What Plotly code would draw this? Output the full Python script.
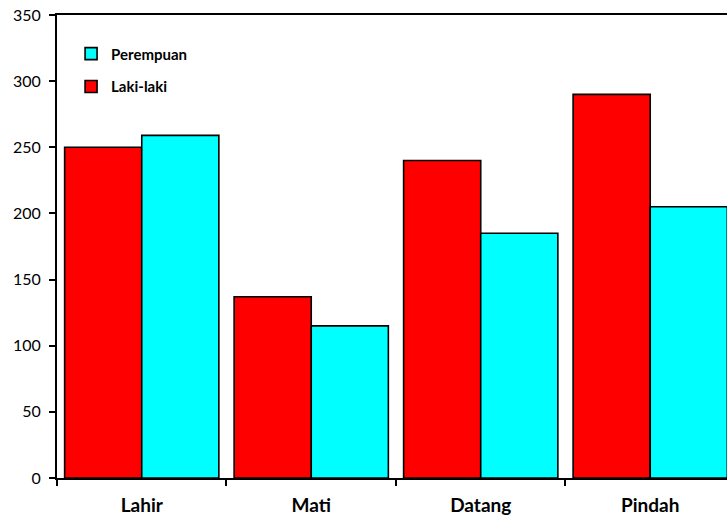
import plotly.graph_objects as go

categories = ["Lahir", "Mati", "Datang", "Pindah"]
laki_laki = [250, 137, 240, 290]
perempuan = [259, 115, 185, 205]
y_ticks = [0, 50, 100, 150, 200, 250, 300, 350]

fig = go.Figure()
fig.add_trace(go.Bar(
    x=categories, y=laki_laki, name="Laki-laki",
    marker=dict(color="#FF0000", line=dict(color="black", width=1.6)),
    legend="legend2",
))
fig.add_trace(go.Bar(
    x=categories, y=perempuan, name="Perempuan",
    marker=dict(color="#00FFFF", line=dict(color="black", width=1.6)),
    legend="legend",
))

font_family = "Lato, 'Open Sans', sans-serif"

fig.update_layout(
    width=727, height=522,
    margin=dict(l=57, r=0, t=15, b=44),
    paper_bgcolor="white", plot_bgcolor="white",
    barmode="group", bargap=0.09, bargroupgap=0,
    font=dict(family=font_family, color="black"),
    showlegend=True,
    legend=dict(x=0.021, y=0.916, xanchor="left", yanchor="middle",
                bgcolor="rgba(0,0,0,0)", font=dict(size=15, family=font_family, weight="bold")),
    legend2=dict(x=0.021, y=0.845, xanchor="left", yanchor="middle",
                 bgcolor="rgba(0,0,0,0)", font=dict(size=15, family=font_family, weight="bold")),
    xaxis=dict(
        range=[-0.5, 3.453], automargin=False,
        showline=True, linecolor="black", linewidth=2, mirror=True,
        ticks="outside", tickson="boundaries", ticklen=6, tickwidth=1.5, tickcolor="black",
        tickfont=dict(size=19, family=font_family, weight="bold"),
        ticklabelstandoff=9,
        showgrid=False, zeroline=False,
    ),
    yaxis=dict(
        range=[0, 350], tickvals=y_ticks, automargin=False,
        showline=True, linecolor="black", linewidth=2,
        ticks="outside", ticklen=6, tickwidth=1.5, tickcolor="black",
        tickfont=dict(size=16, family=font_family),
        ticklabelstandoff=5,
        showgrid=False, zeroline=False,
    ),
)

fig.write_html(
    "out.html",
    config={"displayModeBar": False},
    post_script="document.body.style.margin='0';document.body.style.overflow='hidden';",
)
